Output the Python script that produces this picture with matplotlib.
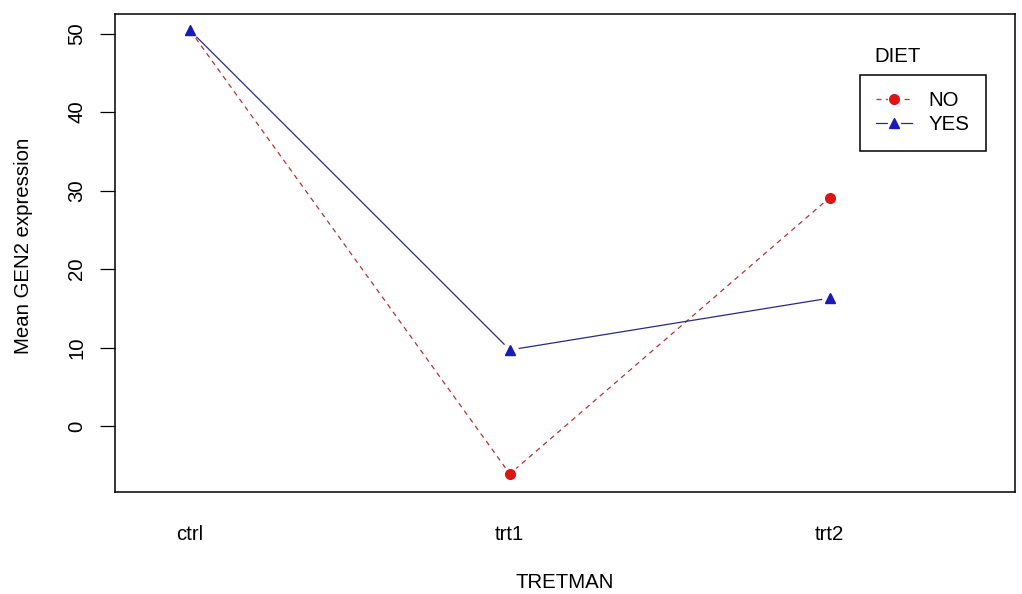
import matplotlib
matplotlib.use("Agg")
import matplotlib.pyplot as plt
from matplotlib.lines import Line2D
from matplotlib.legend_handler import HandlerTuple

plt.rcParams['font.family'] = ['Liberation Sans', 'DejaVu Sans']

# interaction means
treatments = ["ctrl", "trt1", "trt2"]
diet_levels = ["NO", "YES"]
mean_no = [50.4, -6.1, 29.1]
mean_yes = [50.4, 9.7, 16.3]
yticks = [0, 10, 20, 30, 40, 50]

FS = 14.7
fig = plt.figure(figsize=(10.22, 5.94), dpi=100)
ax = fig.add_axes([115 / 1022, 1 - 492 / 594, 900 / 1022, 478 / 594])

xs = list(range(1, len(treatments) + 1))
styles = [
    dict(y=mean_no, line="#b03535", mk="#dd1515", marker="o", ls=(0, (4, 3.5))),
    dict(y=mean_yes, line="#2a2a85", mk="#1a1ab5", marker="^", ls="-"),
]

handles = []
for i, s in enumerate(styles):
    ln, = ax.plot(xs, s["y"], color=s["line"], lw=0.9, linestyle=s["ls"], zorder=2)
    # white disc under each marker gives the gap of R's type="b"
    ax.plot(xs, s["y"], linestyle="none", marker="o", ms=12,
            mfc="white", mec="none", zorder=3 + 2 * i)
    mk, = ax.plot(xs, s["y"], linestyle="none", marker=s["marker"], ms=7,
                  color=s["mk"], mec=s["mk"], zorder=4 + 2 * i)
    small_halo = Line2D([], [], linestyle="none", marker="o", ms=9.5, mfc="white", mec="none")
    handles.append((ln, small_halo, mk))

ax.set_xlim(0.765, 3.58)
ax.set_ylim(-8.4, 52.5)
ax.set_xticks(xs)
ax.set_xticklabels(treatments, fontsize=FS)
ax.set_yticks(yticks)
ax.set_yticklabels([str(t) for t in yticks], fontsize=FS, rotation=90, va="center")
ax.tick_params(axis="x", length=0, pad=24)
ax.tick_params(axis="y", length=10.8, width=0.9, pad=10)
for sp in ax.spines.values():
    sp.set_linewidth(1.1)

fig.text(565 / 1022, 1 - 583 / 594, "TRETMAN", ha="center", va="center", fontsize=FS)
fig.text(24 / 1022, 1 - 246 / 594, "Mean GEN2 expression", ha="center", va="center",
         rotation=90, fontsize=FS)

leg = ax.legend(handles, diet_levels, handler_map={tuple: HandlerTuple(ndivide=1)},
                loc="upper left", bbox_to_anchor=(860 / 1022, 1 - 75 / 594),
                bbox_transform=fig.transFigure, borderaxespad=0, fancybox=False,
                framealpha=1, edgecolor="black", fontsize=FS, handlelength=1.75,
                handletextpad=0.8, borderpad=0.8, labelspacing=0.25)
leg.get_frame().set_linewidth(1.1)
fig.text(898 / 1022, 1 - 56 / 594, "DIET", ha="center", va="center", fontsize=FS)

fig.savefig("out.png", dpi=100)
